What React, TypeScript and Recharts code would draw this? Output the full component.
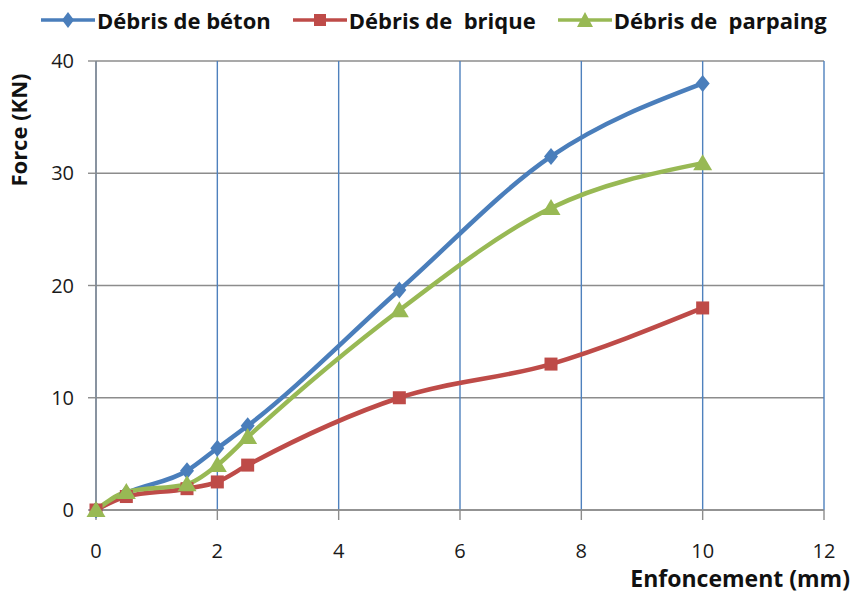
import { LineChart, Line, XAxis, YAxis, CartesianGrid, Legend } from 'recharts'

const enfoncement = [0, 0.5, 1.5, 2, 2.5, 5, 7.5, 10]
const beton = [0, 1.5, 3.5, 5.5, 7.5, 19.6, 31.5, 38]
const brique = [0, 1.2, 1.9, 2.5, 4, 10, 13, 18]
const parpaing = [0, 1.6, 2.3, 4, 6.5, 17.8, 26.9, 30.9]
const xTicks = [0, 2, 4, 6, 8, 10, 12]
const yTicks = [0, 10, 20, 30, 40]

const data = enfoncement.map((x, i) => ({ x, beton: beton[i], brique: brique[i], parpaing: parpaing[i] }))

const FONT = '"Open Sans", "Liberation Sans", sans-serif'
const BLUE = '#4a7ebb'
const RED = '#be4b48'
const GREEN = '#98b954'

const Diamond = ({ cx, cy }: any) => (
  <path d={`M${cx},${cy - 8.5} L${cx + 7},${cy} L${cx},${cy + 8.5} L${cx - 7},${cy} Z`} fill={BLUE} />
)
const Square = ({ cx, cy }: any) => <rect x={cx - 6.5} y={cy - 6.5} width={13} height={13} fill={RED} />
const Triangle = ({ cx, cy }: any) => (
  <path d={`M${cx},${cy - 9} L${cx + 9.5},${cy + 7} L${cx - 9.5},${cy + 7} Z`} fill={GREEN} />
)

const legendItems = [
  { name: 'Débris de béton', color: BLUE, shape: 'diamond' },
  { name: 'Débris de  brique', color: RED, shape: 'square' },
  { name: 'Débris de  parpaing', color: GREEN, shape: 'triangle' },
]

const renderLegend = () => (
  <div style={{ display: 'flex', height: 24, alignItems: 'center', fontFamily: FONT, fontWeight: 700, fontSize: 22, color: '#111' }}>
    {legendItems.map((it) => (
      <div key={it.name} style={{ display: 'flex', alignItems: 'center', marginRight: 22, whiteSpace: 'pre' }}>
        <svg width={54} height={20} style={{ marginRight: 2 }}>
          <line x1={0} y1={10} x2={54} y2={10} stroke={it.color} strokeWidth={3.5} />
          {it.shape === 'diamond' && <path d="M27,2 L33,10 L27,18 L21,10 Z" fill={it.color} />}
          {it.shape === 'square' && <rect x={21} y={4} width={12} height={12} fill={it.color} />}
          {it.shape === 'triangle' && <path d="M27,2 L35,17 L19,17 Z" fill={it.color} />}
        </svg>
        <span>{it.name}</span>
      </div>
    ))}
  </div>
)

export default function App() {
  return (
    <div style={{ position: 'absolute', left: 0, top: 0, background: '#fff' }}>
      <LineChart width={852} height={598} data={data} margin={{ top: 37, right: 28, bottom: 38, left: 0 }}>
        <CartesianGrid horizontal={true} vertical={false} stroke="#8c8c8c" strokeWidth={1.4} />
        <CartesianGrid horizontal={false} vertical={true} stroke="#4f81bd" strokeWidth={1.4} />
        <XAxis
          type="number"
          dataKey="x"
          domain={[0, 12]}
          ticks={xTicks}
          height={50}
          stroke="#8c8c8c"
          strokeWidth={1.4}
          tickSize={10}
          tickMargin={24}
          tick={{ fill: '#1a1a1a', fontSize: 20, fontFamily: FONT }}
          label={{
            value: 'Enfoncement (mm)',
            content: () => (
              <text
                x={850}
                y={581}
                textAnchor="end"
                dominantBaseline="middle"
                style={{ fontFamily: FONT, fontWeight: 700, fontSize: 23, fill: '#111' }}
              >
                Enfoncement (mm)
              </text>
            ),
          }}
        />
        <YAxis
          type="number"
          domain={[0, 40]}
          ticks={yTicks}
          width={96}
          stroke="#8c8c8c"
          strokeWidth={1.4}
          tickSize={8}
          tickMargin={14}
          tick={{ fill: '#1a1a1a', fontSize: 20, fontFamily: FONT }}
          label={{
            value: 'Force (KN)',
            content: () => (
              <text
                x={21}
                y={130}
                transform="rotate(-90 21 130)"
                textAnchor="middle"
                dominantBaseline="middle"
                style={{ fontFamily: FONT, fontWeight: 700, fontSize: 22, fill: '#111' }}
              >
                Force (KN)
              </text>
            ),
          }}
        />
        <Legend verticalAlign="top" align="left" wrapperStyle={{ top: 8, left: 41 }} content={renderLegend} />
        <Line type="monotone" dataKey="beton" stroke={BLUE} strokeWidth={4.5} dot={<Diamond />} isAnimationActive={false} />
        <Line type="monotone" dataKey="brique" stroke={RED} strokeWidth={4.5} dot={<Square />} isAnimationActive={false} />
        <Line type="monotone" dataKey="parpaing" stroke={GREEN} strokeWidth={4.5} dot={<Triangle />} isAnimationActive={false} />
      </LineChart>
    </div>
  )
}
